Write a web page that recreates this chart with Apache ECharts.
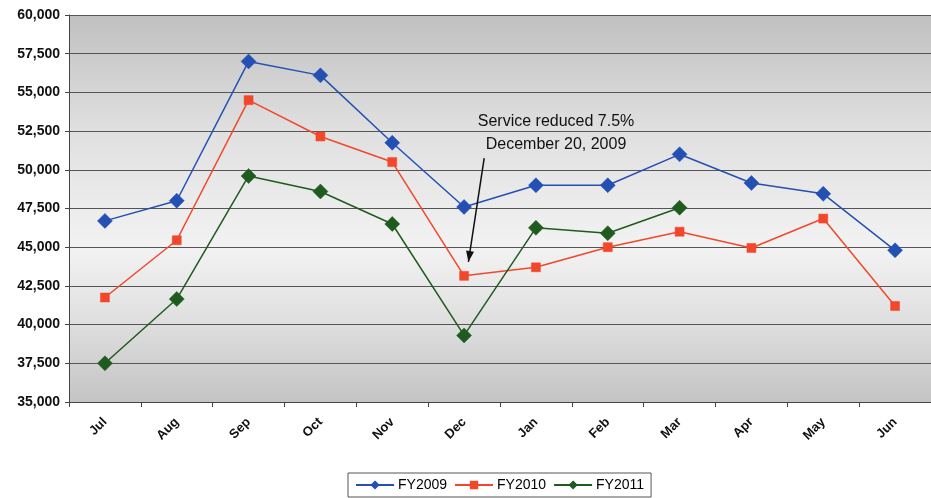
<!DOCTYPE html>
<html>
<head>
<meta charset="utf-8">
<script src="https://cdn.jsdelivr.net/npm/echarts@6/dist/echarts.min.js"></script>
<style>
html, body { margin: 0; padding: 0; background: #fff; }
#chart { width: 931px; height: 498px; }
</style>
</head>
<body>
<div id="chart"></div>
<script>
const months = ['Jul', 'Aug', 'Sep', 'Oct', 'Nov', 'Dec', 'Jan', 'Feb', 'Mar', 'Apr', 'May', 'Jun']
const fy2009 = [46700, 48000, 57000, 56100, 51750, 47600, 49000, 49000, 51000, 49150, 48450, 44800]
const fy2010 = [41750, 45450, 54500, 52150, 50500, 43150, 43700, 45000, 46000, 44950, 46850, 41200]
const fy2011 = [37500, 41650, 49600, 48600, 46500, 39300, 46250, 45900, 47550, null, null, null]
const noteLines = ['Service reduced 7.5%', 'December 20, 2009']

const chart = echarts.init(document.getElementById('chart'))

function series(name, data, color, symbol, size) {
  return {
    name: name,
    type: 'line',
    data: data,
    symbol: symbol,
    symbolSize: size,
    connectNulls: false,
    lineStyle: { color: color, width: 1.5 },
    itemStyle: { color: color, borderColor: color, borderWidth: 0.5 },
    z: 3,
  }
}

chart.setOption({
  animation: false,
  textStyle: { fontFamily: 'Liberation Sans, Arial, sans-serif' },
  grid: {
    left: 69,
    right: -11,
    top: 15,
    bottom: 96,
    show: true,
    borderWidth: 0,
    backgroundColor: {
      type: 'linear', x: 0, y: 0, x2: 0, y2: 1,
      colorStops: [
        { offset: 0, color: '#c0c0c0' },
        { offset: 0.3, color: '#e0e0e0' },
        { offset: 0.6, color: '#f2f2f2' },
        { offset: 0.75, color: '#e4e4e4' },
        { offset: 1, color: '#c4c4c4' },
      ],
    },
  },
  legend: {
    top: 473,
    left: 348,
    data: ['FY2009', 'FY2010', 'FY2011'],
    backgroundColor: '#fff',
    borderColor: '#555',
    borderWidth: 1,
    padding: [5, 7],
    itemGap: 7,
    itemWidth: 38,
    itemHeight: 8,
    textStyle: { fontSize: 14, color: '#000', padding: [0, 0, 0, -1] },
  },
  xAxis: {
    type: 'category',
    data: months,
    boundaryGap: true,
    axisLine: { lineStyle: { color: '#444', width: 1 } },
    axisTick: { show: true, length: 5, lineStyle: { color: '#444' } },
    axisLabel: { rotate: 45, fontSize: 13, fontWeight: 'bold', color: '#111', margin: 18 },
    splitLine: { show: false },
  },
  yAxis: {
    type: 'value',
    min: 35000,
    max: 60000,
    interval: 2500,
    axisLine: { show: true, lineStyle: { color: '#444', width: 1 } },
    axisTick: { show: true, length: 4, lineStyle: { color: '#444' } },
    axisLabel: {
      fontSize: 14, fontWeight: 'bold', color: '#111', margin: 9,
      formatter: v => v.toLocaleString('en-US'),
    },
    splitLine: { lineStyle: { color: '#555', width: 1 } },
  },
  series: [
    series('FY2009', fy2009, '#2450b4', 'diamond', 15),
    series('FY2010', fy2010, '#f2472a', 'rect', 9),
    series('FY2011', fy2011, '#1f5a1f', 'diamond', 15),
  ],
})

// annotation: note text with arrow pointing at Dec FY2010
const decX = chart.convertToPixel({ xAxisIndex: 0 }, 'Dec')
const janX = chart.convertToPixel({ xAxisIndex: 0 }, 'Jan')
const step = janX - decX
const yPix = v => chart.convertToPixel({ yAxisIndex: 0 }, v)
const textX = decX + step * 1.28
const arrowTop = [decX + step * 0.28, yPix(50750)]
const arrowEnd = [decX + step * 0.06, yPix(44050)]
chart.setOption({
  graphic: [
    {
      type: 'text',
      x: textX,
      y: yPix(52400),
      style: {
        text: noteLines.join('\n'),
        fill: '#111',
        font: '16px Liberation Sans, Arial, sans-serif',
        align: 'center',
        verticalAlign: 'middle',
        lineHeight: 23,
      },
      z: 10,
    },
    {
      type: 'line',
      shape: { x1: arrowTop[0], y1: arrowTop[1], x2: arrowEnd[0], y2: arrowEnd[1] },
      style: { stroke: '#111', lineWidth: 1.5 },
      z: 10,
    },
    {
      type: 'polygon',
      shape: (function () {
        const dx = arrowEnd[0] - arrowTop[0], dy = arrowEnd[1] - arrowTop[1]
        const len = Math.sqrt(dx * dx + dy * dy)
        const ux = dx / len, uy = dy / len
        const bx = arrowEnd[0] - ux * 11, by = arrowEnd[1] - uy * 11
        return { points: [arrowEnd, [bx - uy * 4, by + ux * 4], [bx + uy * 4, by - ux * 4]] }
      })(),
      style: { fill: '#111' },
      z: 10,
    },
  ],
})
</script>
</body>
</html>
